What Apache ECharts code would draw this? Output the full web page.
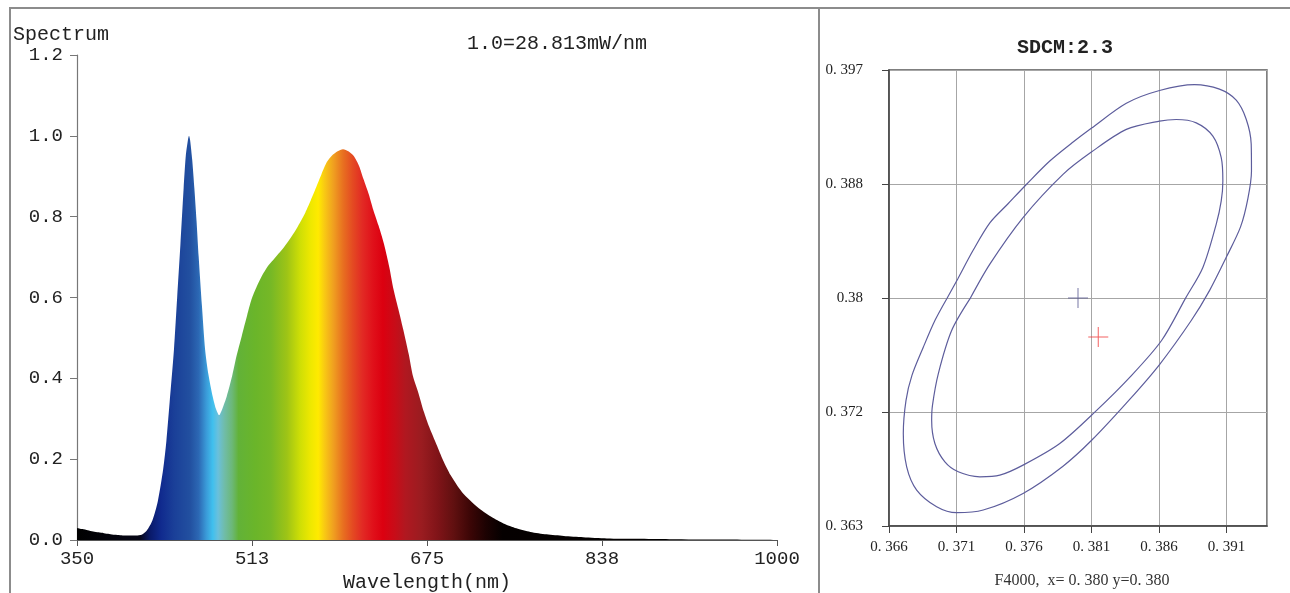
<!DOCTYPE html>
<html>
<head>
<meta charset="utf-8">
<script src="https://cdn.jsdelivr.net/npm/echarts@6/dist/echarts.min.js"></script>
<style>
html,body{margin:0;padding:0;background:#fff;}
#wrap{position:relative;width:1290px;height:593px;overflow:hidden;}
#frame{position:absolute;left:9px;top:7px;width:1290px;height:600px;border-top:2px solid #8c8c8c;border-left:2px solid #8c8c8c;}
#divider{position:absolute;left:818px;top:7px;width:2px;height:600px;background:#8c8c8c;}
#chart{position:absolute;left:0;top:0;width:1290px;height:593px;}
</style>
</head>
<body>
<div id="wrap">
<div id="frame"></div>
<div id="divider"></div>
<div id="chart"></div>
</div>
<script>
// ---- Spectrum data (wavelength nm, relative intensity) ----
const wavelengths = [350,355,360,365,370,375,380,385,390,395,400,405,410,415,420,425,430,433,436,440,443,446,449,451,453,454,455,457,459,461,463,466,469,472,476,479,482,485,489,494,498,503,508,512,517,522,527,532,537,542,547,552,557,562,567,572,577,582,587,592,597,602,607,612,616,621,625,630,635,640,644,649,653,658,662,667,672,677,684,690,697,703,709,717,725,735,746,758,771,786,802,820,842,870,900,950,1000];
const intensities = [0.030,0.027,0.024,0.021,0.019,0.017,0.015,0.013,0.012,0.011,0.011,0.011,0.013,0.024,0.048,0.095,0.175,0.245,0.340,0.470,0.600,0.730,0.870,0.950,0.990,1.000,0.990,0.940,0.870,0.790,0.700,0.580,0.470,0.410,0.355,0.325,0.309,0.325,0.355,0.405,0.454,0.505,0.556,0.595,0.628,0.655,0.677,0.692,0.708,0.724,0.742,0.762,0.785,0.810,0.840,0.872,0.905,0.935,0.952,0.962,0.967,0.962,0.950,0.925,0.893,0.855,0.818,0.778,0.733,0.675,0.619,0.565,0.520,0.460,0.405,0.364,0.318,0.280,0.235,0.197,0.160,0.135,0.114,0.093,0.075,0.057,0.041,0.029,0.020,0.014,0.010,0.007,0.004,0.003,0.002,0.001,0.000];
const xTickLabelsLeft = ['350','513','675','838','1000'];

// ---- Chromaticity data ----
const outerX = [0.37027,0.37110,0.37221,0.37347,0.37480,0.37621,0.37791,0.37954,0.38101,0.38358,0.38604,0.38863,0.39048,0.39172,0.39246,0.39283,0.39285,0.39258,0.39204,0.39100,0.38974,0.38839,0.38604,0.38383,0.38101,0.37889,0.37593,0.37298,0.37101,0.36953,0.36805,0.36731,0.36706,0.36726,0.36770,0.36854,0.36940,0.37027];
const outerY = [0.37993,0.38144,0.38352,0.38560,0.38701,0.38850,0.39021,0.39155,0.39267,0.39452,0.39547,0.39591,0.39557,0.39475,0.39333,0.39148,0.38947,0.38739,0.38530,0.38307,0.38055,0.37832,0.37504,0.37244,0.36939,0.36746,0.36543,0.36419,0.36399,0.36444,0.36568,0.36741,0.36989,0.37237,0.37423,0.37633,0.37832,0.37993];
const innerX = [0.37199,0.37347,0.37593,0.37889,0.38099,0.38358,0.38604,0.38728,0.38876,0.38999,0.39061,0.39073,0.39061,0.39024,0.38925,0.38797,0.38619,0.38383,0.38138,0.37865,0.37593,0.37421,0.37273,0.37113,0.37014,0.36940,0.36916,0.36922,0.36965,0.37064,0.37199];
const innerY = [0.37993,0.38253,0.38600,0.38922,0.39088,0.39257,0.39319,0.39331,0.39306,0.39207,0.39046,0.38873,0.38724,0.38551,0.38228,0.37999,0.37683,0.37408,0.37162,0.36915,0.36754,0.36679,0.36667,0.36704,0.36778,0.36915,0.37088,0.37200,0.37435,0.37757,0.37993];
const refPoint = [0.380, 0.380];
const testPoint = [0.3815, 0.3771];
const xTickLabelsRight = ['0. 366','0. 371','0. 376','0. 381','0. 386','0. 391'];
const yTickLabelsRight = ['0. 363','0. 372','0.38','0. 388','0. 397'];

// ---- spectral palette (style) ----
const paletteNm = [350,408,418,428,440,455,463,470,476,481,487,494,500,515,530,545,557,567,574,580,588,597,606,615,625,634,645,655,670,685,700,715,730,745,1000];
const paletteColors = ['#000000','#050515','#0a1a6a','#102a8e','#1a3f98','#2250a0','#2c68b4','#3a9ad8','#40c0ee','#6ac0dc','#70bca8','#6cb878','#62b238','#6ab52a','#76b826','#9ec416','#cede06','#eee800','#ffea00','#f8c814','#f0a020','#e87020','#e44a22','#e22a24','#e0101a','#dc0010','#c80c18','#b01820','#9a1c20','#801418','#601010','#3c0606','#1c0202','#050000','#000000'];

const spectrumData = wavelengths.map((w, i) => [w, intensities[i]]);
const outerData = outerX.map((x, i) => [x, outerY[i]]);
const innerData = innerX.map((x, i) => [x, innerY[i]]);
const lmin = wavelengths[0], lmax = wavelengths[wavelengths.length - 1];
const stops = paletteNm.map((w, i) => ({offset: (w - lmin) / (lmax - lmin), color: paletteColors[i]}));

const chart = echarts.init(document.getElementById('chart'), null, {renderer: 'canvas'});
const mono = 'Liberation Mono';
const serif = 'Liberation Serif';
const plusPath = 'path://M9.5,0h1v20h-1z M0,9.5h20v1h-20z';

chart.setOption({
  animation: false,
  backgroundColor: 'transparent',
  title: [
    {text: 'Spectrum', left: 8, top: 20, textStyle: {fontFamily: mono, fontSize: 20, fontWeight: 'normal', color: '#222'}},
    {text: '1.0=28.813mW/nm', left: 462, top: 29, textStyle: {fontFamily: mono, fontSize: 20, fontWeight: 'normal', color: '#222'}},
    {text: 'SDCM:2.3', left: 1060, textAlign: 'center', top: 33, textStyle: {fontFamily: mono, fontSize: 20, fontWeight: 'bold', color: '#222'}},
    {text: 'F4000,  x= 0. 380 y=0. 380', left: 1077, textAlign: 'center', top: 568, textStyle: {fontFamily: serif, fontSize: 16, fontWeight: 'normal', color: '#333'}}
  ],
  grid: [
    {left: 77, right: 513, top: 55, bottom: 53, outerBoundsMode: 'none', containLabel: false},
    {left: 889, right: 23, top: 70, bottom: 67, outerBoundsMode: 'none', containLabel: false, show: true, borderColor: '#555', borderWidth: 1.5}
  ],
  xAxis: [
    {
      type: 'value', gridIndex: 0, min: 350, max: 1000, interval: 162.5,
      axisLine: {lineStyle: {color: '#555', width: 1.2}},
      axisTick: {show: true, length: 6, lineStyle: {color: '#555'}},
      splitLine: {show: false},
      axisLabel: {fontFamily: mono, fontSize: 19, color: '#222', margin: 9,
        formatter: v => xTickLabelsLeft[Math.round((v - 350) / 162.5)] || ''},
      name: 'Wavelength(nm)', nameLocation: 'middle', nameGap: 32,
      nameTextStyle: {fontFamily: mono, fontSize: 20, color: '#222'}
    },
    {
      type: 'value', gridIndex: 1, min: 0.366, max: 0.394, interval: 0.005,
      axisLine: {lineStyle: {color: '#444', width: 1.5}},
      axisTick: {show: true, length: 7, lineStyle: {color: '#444'}},
      splitLine: {show: true, lineStyle: {color: '#a6a6a6', width: 1}},
      axisLabel: {fontFamily: serif, fontSize: 15, color: '#222', margin: 14, showMaxLabel: false,
        formatter: v => { const k = Math.round((v - 0.366) / 0.005); return (Math.abs(v - (0.366 + k * 0.005)) < 1e-6 && xTickLabelsRight[k]) ? xTickLabelsRight[k] : ''; }}
    }
  ],
  yAxis: [
    {
      type: 'value', gridIndex: 0, min: 0, max: 1.2, interval: 0.2,
      axisLine: {show: true, lineStyle: {color: '#777', width: 1.2}},
      axisTick: {show: true, length: 7, lineStyle: {color: '#777'}},
      splitLine: {show: false},
      axisLabel: {fontFamily: mono, fontSize: 19, color: '#222', margin: 14, formatter: v => v.toFixed(1)}
    },
    {
      type: 'value', gridIndex: 1, min: 0.363, max: 0.397, interval: 0.0085,
      axisLine: {show: true, lineStyle: {color: '#444', width: 1.5}},
      axisTick: {show: true, length: 7, lineStyle: {color: '#444'}},
      splitLine: {show: true, lineStyle: {color: '#a6a6a6', width: 1}},
      axisLabel: {fontFamily: serif, fontSize: 15, color: '#222', margin: 26,
        formatter: v => yTickLabelsRight[Math.round((v - 0.363) / 0.0085)] || ''}
    }
  ],
  series: [
    {
      type: 'line', xAxisIndex: 0, yAxisIndex: 0, data: spectrumData,
      showSymbol: false, smooth: 0.25, silent: true,
      lineStyle: {width: 0},
      areaStyle: {opacity: 1, color: new echarts.graphic.LinearGradient(0, 0, 1, 0, stops)}
    },
    {
      type: 'line', xAxisIndex: 1, yAxisIndex: 1, data: outerData,
      showSymbol: false, smooth: 0.3, silent: true,
      lineStyle: {color: '#5d5d9c', width: 1.2}
    },
    {
      type: 'line', xAxisIndex: 1, yAxisIndex: 1, data: innerData,
      showSymbol: false, smooth: 0.3, silent: true,
      lineStyle: {color: '#5d5d9c', width: 1.2}
    },
    {
      type: 'scatter', xAxisIndex: 1, yAxisIndex: 1, data: [refPoint],
      symbol: plusPath, symbolSize: 20, silent: true,
      itemStyle: {color: '#55558f'}
    },
    {
      type: 'scatter', xAxisIndex: 1, yAxisIndex: 1, data: [testPoint],
      symbol: plusPath, symbolSize: 20, silent: true,
      itemStyle: {color: '#f03a3a'}
    }
  ]
});
</script>
</body>
</html>
